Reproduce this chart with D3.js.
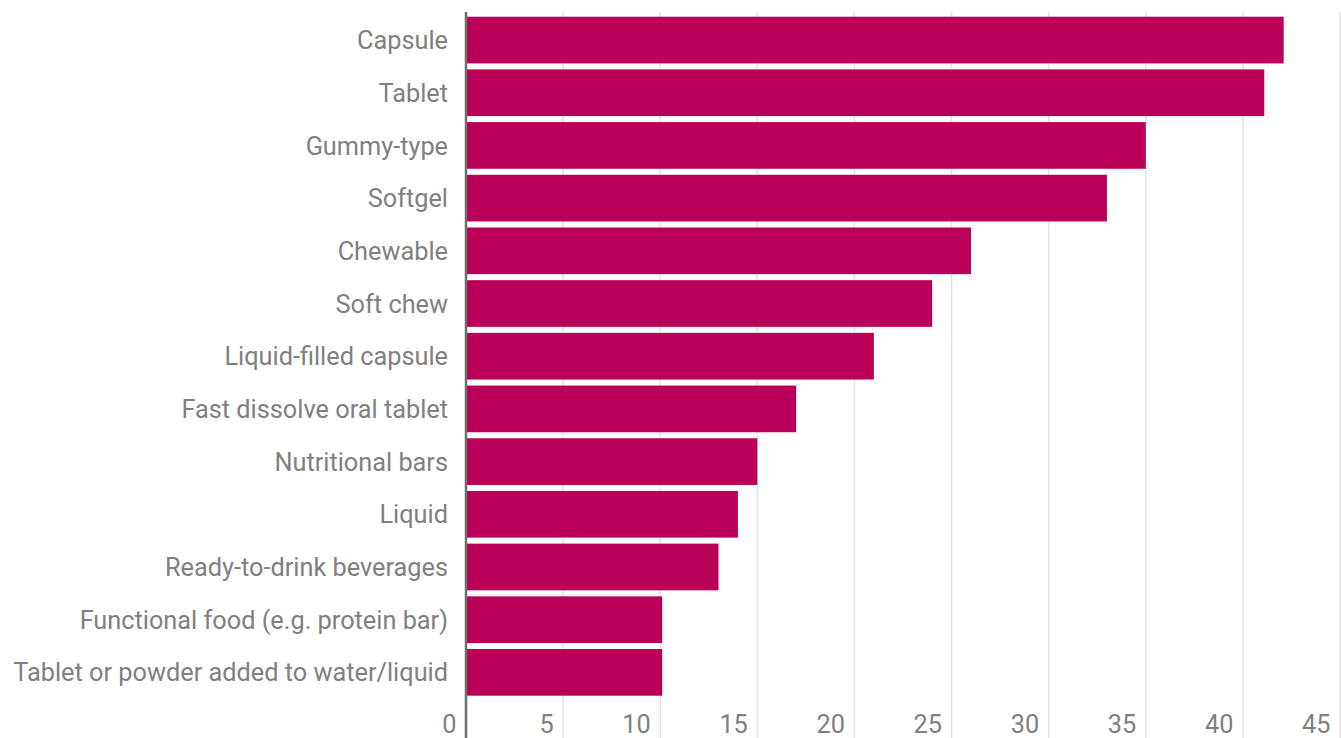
<!DOCTYPE html>
<html>
<head>
<meta charset="utf-8">
<style>
  body { margin: 0; background: #fff; }
  .label text { font-family: Roboto, sans-serif; font-size: 25.3px; fill: #808080; }
  .bar { fill: #ba0058; }
</style>
<script src="https://cdn.jsdelivr.net/npm/d3@7"></script>
</head>
<body>
<svg width="1341" height="738"></svg>
<script>
// survey answers, percent
var forms = ["Capsule", "Tablet", "Gummy-type", "Softgel", "Chewable", "Soft chew",
  "Liquid-filled capsule", "Fast dissolve oral tablet", "Nutritional bars", "Liquid",
  "Ready-to-drink beverages", "Functional food (e.g. protein bar)",
  "Tablet or powder added to water/liquid"];
var shares = [42.1, 41.1, 35.0, 33.0, 26.0, 24.0, 21.0, 17.0, 15.0, 14.0, 13.0, 10.1, 10.1];
var xTicks = [0, 5, 10, 15, 20, 25, 30, 35, 40, 45];

var svg = d3.select("svg");

var x = d3.scaleLinear().domain([0, 45]).range([466, 1340]);
var y = d3.scaleBand().domain(forms).range([16.7, 695.7]).paddingInner(0.114).paddingOuter(0);

// gridlines
svg.append("g")
  .selectAll("line")
  .data(xTicks.slice(1))
  .enter().append("line")
  .attr("x1", d => x(d)).attr("x2", d => x(d))
  .attr("y1", 12).attr("y2", 738)
  .attr("stroke", "#e2e2e2")
  .attr("stroke-width", 1.5);

// bars
svg.append("g")
  .selectAll("rect")
  .data(shares)
  .enter().append("rect")
  .attr("class", "bar")
  .attr("x", x(0))
  .attr("y", (d, i) => y(forms[i]))
  .attr("width", d => x(d) - x(0))
  .attr("height", y.bandwidth());

// category labels
var yAxis = svg.append("g")
  .attr("class", "label")
  .attr("transform", "translate(" + x(0) + ",0)")
  .call(d3.axisLeft(y).tickSize(0).tickPadding(18));
yAxis.select(".domain").remove();
yAxis.selectAll("text").attr("dy", "0.36em");

// value ticks
var xAxis = svg.append("g")
  .attr("class", "label")
  .attr("transform", "translate(0,724)")
  .call(d3.axisBottom(x).tickValues(xTicks).tickSize(0));
xAxis.select(".domain").remove();
xAxis.selectAll("text")
  .attr("text-anchor", "end")
  .attr("y", 0)
  .attr("dy", "0.36em")
  .attr("dx", -10);

// zero line
svg.append("line")
  .attr("x1", x(0)).attr("x2", x(0))
  .attr("y1", 12).attr("y2", 738)
  .attr("stroke", "#6f6f6f")
  .attr("stroke-width", 2.5);
</script>
</body>
</html>
